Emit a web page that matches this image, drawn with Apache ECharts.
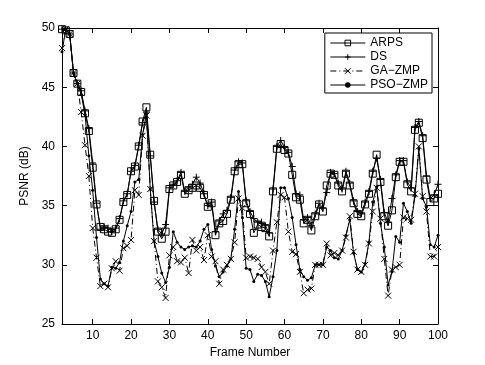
<!DOCTYPE html>
<html>
<head>
<meta charset="utf-8">
<script src="https://cdn.jsdelivr.net/npm/echarts@6/dist/echarts.min.js"></script>
<style>
  html, body { margin: 0; padding: 0; background: #fff; }
  #chart { width: 485px; height: 365px; }
</style>
</head>
<body>
<div id="chart"></div>
<script>
// frames 2..100
var firstFrame = 2;
var xTicks = [10, 20, 30, 40, 50, 60, 70, 80, 90, 100];

var arps = [49.9, 49.8, 49.5, 46.2, 45.3, 44.6, 42.8, 41.3, 38.2, 35.1,
  33.2, 33.0, 32.8, 32.7, 33.0, 33.8, 35.3, 35.9, 37.9, 38.3,
  40.0, 42.1, 43.3, 39.3, 35.4, 32.8, 32.2, 32.8, 36.4, 36.7,
  37.0, 37.6, 36.0, 36.3, 36.5, 36.7, 36.5, 35.9, 34.9, 35.2,
  32.5, 33.5, 33.7, 34.3, 35.5, 37.9, 38.5, 38.5, 35.2, 34.3,
  32.7, 33.4, 33.2, 33.1, 32.4, 36.2, 39.8, 40.2, 39.7, 39.4,
  37.6, 35.7, 35.5, 33.5, 33.8, 32.9, 34.1, 35.1, 34.5, 36.7,
  37.7, 37.6, 36.7, 36.2, 37.7, 36.7, 35.2, 34.3, 34.1, 35.1,
  36.0, 37.7, 39.3, 37.0, 34.1, 33.3, 34.6, 37.4, 38.7, 38.7,
  36.8, 36.2, 41.4, 42.0, 40.7, 37.2, 35.3, 35.6, 36.0];

var ds = [49.9, 49.8, 49.5, 46.2, 45.3, 44.7, 43.0, 41.5, 38.6, 35.2,
  33.0, 33.2, 33.1, 32.8, 33.1, 33.9, 35.4, 36.0, 37.9, 38.4,
  40.1, 42.0, 42.9, 39.2, 35.3, 33.0, 32.6, 33.4, 36.5, 36.8,
  37.1, 37.8, 36.2, 36.5, 36.8, 37.4, 36.9, 36.0, 35.0, 35.3,
  32.8, 33.7, 34.3, 34.6, 35.7, 38.0, 38.7, 38.6, 35.4, 34.5,
  33.9, 33.6, 33.6, 33.3, 32.7, 36.4, 40.0, 40.5, 39.9, 39.5,
  38.3, 36.0, 35.9, 33.8, 34.0, 33.3, 34.3, 35.2, 34.8, 36.1,
  37.8, 37.7, 36.9, 36.4, 37.9, 36.9, 35.4, 34.5, 34.3, 35.3,
  36.2, 37.9, 39.0, 37.2, 34.4, 33.6, 35.6, 37.6, 38.8, 38.8,
  37.0, 36.5, 41.6, 42.1, 40.9, 37.5, 35.6, 35.9, 36.8];

var gaZmp = [48.3, 49.9, 49.5, 46.2, 45.3, 42.9, 40.1, 37.5, 33.1, 30.6,
  28.2, 28.4, 28.1, 29.7, 30.3, 29.5, 31.4, 31.6, 32.1, 36.3,
  35.9, 40.9, 42.6, 36.4, 32.0, 28.6, 28.1, 27.2, 30.8, 31.5,
  30.3, 30.2, 30.6, 29.3, 32.1, 31.2, 31.5, 30.4, 32.5, 30.7,
  30.3, 28.4, 29.6, 30.0, 30.5, 31.9, 35.6, 34.8, 30.6, 30.7,
  30.6, 30.5, 29.8, 29.4, 28.4, 31.2, 33.6, 35.9, 35.7, 32.8,
  31.1, 30.9, 29.4, 27.6, 27.9, 28.0, 30.0, 30.0, 30.0, 31.8,
  30.8, 31.0, 30.8, 31.2, 32.3, 34.1, 31.1, 29.6, 29.4, 30.0,
  31.8, 34.5, 36.5, 33.9, 30.5, 27.4, 29.6, 29.8, 30.0, 34.0,
  33.9, 33.8, 36.0, 40.0, 35.8, 34.5, 30.7, 30.7, 31.5];

var psoZmp = [48.0, 49.9, 49.5, 46.2, 45.3, 44.4, 42.7, 39.2, 36.3, 32.3,
  28.8, 28.4, 28.2, 29.8, 29.7, 30.2, 32.0, 33.3, 34.5, 37.0,
  37.2, 41.0, 42.8, 36.4, 32.0, 30.7, 29.3, 28.5, 29.8, 32.8,
  31.9, 31.5, 31.3, 31.5, 31.6, 31.5, 32.0, 33.0, 33.4, 31.3,
  29.9, 29.0, 29.4, 29.9, 30.5, 33.0, 36.2, 34.0, 29.7, 29.6,
  28.6, 29.2, 29.1, 28.6, 27.3, 29.0, 31.2, 36.5, 36.5, 35.6,
  34.0, 31.7, 29.6, 29.0, 28.7, 28.9, 30.0, 30.0, 30.0, 31.5,
  31.2, 30.6, 30.5, 31.2, 32.5, 33.8, 31.0, 29.6, 29.4, 30.1,
  31.9, 35.3, 36.6, 33.5, 31.5, 28.3, 29.4, 32.4, 31.9, 35.2,
  34.5, 33.5, 35.8, 39.8, 35.6, 34.9, 31.7, 31.5, 32.5];

function pairs(vals) {
  var out = [];
  for (var i = 0; i < vals.length; i++) out.push([firstFrame + i, vals[i]]);
  return out;
}

var chart = echarts.init(document.getElementById('chart'));
var font = 'Liberation Sans';
var plusPath = 'path://M0,5L10,5M5,0L5,10';
var crossPath = 'path://M0,0L10,10M10,0L0,10';

function axisX(pos, labels) {
  return {
    type: 'value', position: pos, min: 2, max: 100,
    name: labels ? 'Frame Number' : '', nameLocation: 'middle', nameGap: 22,
    nameTextStyle: { color: '#000', fontFamily: font, fontSize: 12 },
    axisLine: { show: true, onZero: false, lineStyle: { color: '#000', width: 1 } },
    axisTick: { show: true, inside: true, length: 5, lineStyle: { color: '#000' }, customValues: xTicks },
    axisLabel: { show: labels, color: '#000', fontFamily: font, fontSize: 12, margin: 6, customValues: xTicks },
    splitLine: { show: false }
  };
}
function axisY(pos, labels) {
  return {
    type: 'value', position: pos, min: 25, max: 50, interval: 5,
    name: labels ? 'PSNR (dB)' : '', nameLocation: 'middle', nameGap: 28, nameRotate: 90,
    nameTextStyle: { color: '#000', fontFamily: font, fontSize: 12 },
    axisLine: { show: true, onZero: false, lineStyle: { color: '#000', width: 1 } },
    axisTick: { show: true, inside: true, length: 5, lineStyle: { color: '#000' } },
    axisLabel: { show: labels, color: '#000', fontFamily: font, fontSize: 12, margin: 7 },
    splitLine: { show: false }
  };
}

var option = {
  animation: false,
  backgroundColor: '#fff',
  grid: { left: 62, right: 47, top: 28, bottom: 41 },
  xAxis: [axisX('bottom', true), axisX('top', false)],
  yAxis: [axisY('left', true), axisY('right', false)],
  legend: {
    orient: 'vertical', right: 53, top: 33,
    backgroundColor: '#fff', borderColor: '#000', borderWidth: 1,
    padding: [3, 4, 1, 5], itemGap: 0, itemWidth: 35, itemHeight: 7,
    lineStyle: { width: 1 },
    itemStyle: { borderWidth: 1 },
    textStyle: { color: '#000', fontFamily: font, fontSize: 12, lineHeight: 14 },
    data: ['ARPS', 'DS', 'GA\u2212ZMP', 'PSO\u2212ZMP']
  },
  series: [
    {
      name: 'ARPS', type: 'line', data: pairs(arps),
      symbol: 'rect', symbolSize: 7,
      itemStyle: { color: 'rgba(0,0,0,0)', borderColor: '#000', borderWidth: 1 },
      lineStyle: { color: '#000', width: 1 }
    },
    {
      name: 'DS', type: 'line', data: pairs(ds),
      symbol: plusPath, symbolSize: 7,
      itemStyle: { color: 'rgba(0,0,0,0)', borderColor: '#000', borderWidth: 1 },
      lineStyle: { color: '#000', width: 1 }
    },
    {
      name: 'GA\u2212ZMP', type: 'line', data: pairs(gaZmp),
      symbol: crossPath, symbolSize: 6,
      itemStyle: { color: 'rgba(0,0,0,0)', borderColor: '#000', borderWidth: 1 },
      lineStyle: { color: '#000', width: 1, type: [6, 3, 1, 3] }
    },
    {
      name: 'PSO\u2212ZMP', type: 'line', data: pairs(psoZmp),
      symbol: 'circle', symbolSize: 3,
      itemStyle: { color: '#000', borderWidth: 0 },
      lineStyle: { color: '#000', width: 1 }
    }
  ]
};
chart.setOption(option);
</script>
</body>
</html>
